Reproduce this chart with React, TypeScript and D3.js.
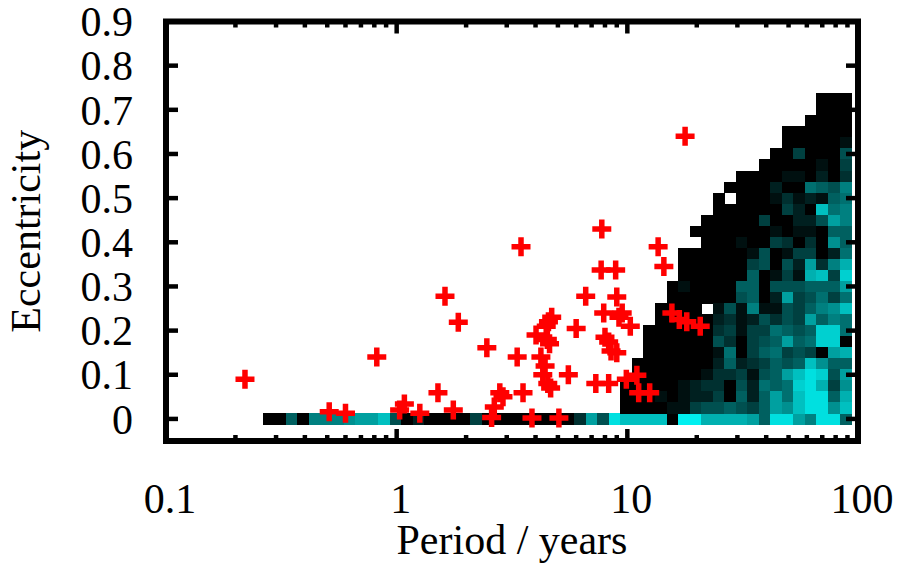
import React from 'react';
import * as d3 from 'd3';

// ---------- data ----------
const xTickValues = [0.1, 1, 10, 100];
const xTickLabels = ['0.1', '1', '10', '100'];
const yTickValues = [0, 0.1, 0.2, 0.3, 0.4, 0.5, 0.6, 0.7, 0.8, 0.9];
const yTickLabels = ['0', '0.1', '0.2', '0.3', '0.4', '0.5', '0.6', '0.7', '0.8', '0.9'];

// histogram bins: log10(period) bins, eccentricity bins
const binLogStart = -0.58;
const binLogWidth = 0.05;
const eccBinWidth = 0.025;

// bottom row (e = 0), bins 0..50, hex intensity 0-f
const bottomRow = '00608889aac' + '5020000400' + '0000003a5e' + 'cccc0ffbbbba6eea8ee6';

// upper block, bins 31..50, rows from e = 0.725 (top) down to e = 0.025
const blockStartBin = 31;
const blockRows = [
  '.................000',
  '.................000',
  '................0000',
  '..............000000',
  '..............000001',
  '.............0040005',
  '............00000104',
  '..........0000110203',
  '.........00002007658',
  '........0.0001312167',
  '........000000420c78',
  '.......00000400225a8',
  '......00000001011066',
  '.......0001004303096',
  '.....000000150144027',
  '.....00000045052a38b',
  '.....00000060141bc4d',
  '....010000660555666a',
  '....0000005602a45747',
  '...0000.15181154689c',
  '...0000023125354a687',
  '..000000341447656dd7',
  '..000000530456a67dd0',
  '..0000001704674540ab',
  '.000000026234656c966',
  '.0000001334156aced5a',
  '000001233052767deb49',
  '0001012240626a7cee6b',
  '0000114556546a9cee9c',
];

// observed planets: period (years) and eccentricity
const crossPeriod = [
  0.22, 0.51, 0.60, 0.82, 1.03, 1.08, 1.26, 1.51, 1.62, 1.76, 1.85, 2.46, 2.58, 2.65, 2.80, 2.89,
  3.33, 3.46, 3.53, 3.86, 4.02, 4.22, 4.30, 4.45, 4.55, 4.70, 4.40, 4.50, 4.60, 4.52, 4.65, 5.05,
  5.55, 6.00, 6.60, 7.30, 7.75, 7.70, 7.90, 8.00, 8.30, 8.50, 8.90, 8.30, 9.00, 9.50, 9.20, 9.00,
  9.90, 10.3, 11.2, 11.0, 12.5, 13.6, 14.4, 15.6, 16.8, 17.8, 18.1, 20.7,
];
const crossEcc = [
  0.09, 0.016, 0.013, 0.14, 0.02, 0.034, 0.013, 0.059, 0.278, 0.02, 0.219, 0.161, 0.003, 0.027, 0.059, 0.05,
  0.14, 0.39, 0.059, 0.002, 0.19, 0.14, 0.10, 0.21, 0.22, 0.23, 0.12, 0.18, 0.17, 0.08, 0.07, 0.002,
  0.10, 0.205, 0.278, 0.08, 0.43, 0.337, 0.24, 0.185, 0.174, 0.154, 0.337, 0.08, 0.276, 0.24, 0.23, 0.15,
  0.09, 0.21, 0.059, 0.099, 0.059, 0.39, 0.345, 0.24, 0.225, 0.64, 0.22, 0.21,
];

// ---------- layout ----------
const W = 900;
const H = 566;
const left = 166;
const right = 858;
const top = 21.5;
const bottom = 441;
const FONT = '"Liberation Serif", "Times New Roman", serif';

export default function App() {
  const x = d3.scaleLog().domain([0.1, 100]).range([left, right]);
  const y = d3.scaleLinear().domain([-0.05, 0.9]).range([bottom, top]);

  const cellColor = (d: string) => {
    const v = parseInt(d, 16) * 16;
    return d3.rgb(0, v, v).toString();
  };

  const cells: { j: number; k: number; c: string }[] = [];
  bottomRow.split('').forEach((ch, j) => {
    if (ch !== '.') cells.push({ j, k: 0, c: ch });
  });
  blockRows.forEach((row, ri) => {
    const k = blockRows.length - ri;
    row.split('').forEach((ch, ci) => {
      if (ch !== '.') cells.push({ j: blockStartBin + ci, k, c: ch });
    });
  });

  const minorX: number[] = [];
  [0.1, 1, 10].forEach((d) => {
    for (let m = 2; m <= 9; m++) minorX.push(d * m);
  });

  const cross = crossPeriod.map((p, i) => ({ cx: x(p), cy: y(crossEcc[i]) }));
  const arm = 9.5;

  return (
    <svg
      width={W}
      height={H}
      style={{ position: 'absolute', left: 0, top: 0, background: '#fff' }}
      xmlns="http://www.w3.org/2000/svg"
    >
      <rect x={0} y={0} width={W} height={H} fill="#fff" />
      <g shapeRendering="crispEdges">
        {cells.map((d, i) => {
          const x0 = x(Math.pow(10, binLogStart + d.j * binLogWidth));
          const x1 = x(Math.pow(10, binLogStart + (d.j + 1) * binLogWidth));
          const e = d.k * eccBinWidth;
          const y0 = y(e + eccBinWidth / 2);
          const y1 = y(e - eccBinWidth / 2);
          return (
            <rect
              key={i}
              x={x0}
              y={y0}
              width={x1 - x0 + 0.6}
              height={y1 - y0 + 0.6}
              fill={cellColor(d.c)}
            />
          );
        })}
      </g>
      <g stroke="#ff0000" strokeWidth={5.5} fill="none">
        {cross.map((c, i) => (
          <path
            key={i}
            d={`M${c.cx - arm},${c.cy}H${c.cx + arm}M${c.cx},${c.cy - arm}V${c.cy + arm}`}
          />
        ))}
      </g>
      {/* ticks */}
      <g stroke="#000" strokeWidth={4.5}>
        {yTickValues.map((v) => (
          <g key={'yt' + v}>
            <line x1={left} x2={left + 12} y1={y(v)} y2={y(v)} />
            <line x1={right} x2={right - 12} y1={y(v)} y2={y(v)} />
          </g>
        ))}
        {xTickValues.map((v) => (
          <g key={'xt' + v}>
            <line x1={x(v)} x2={x(v)} y1={bottom} y2={bottom - 12} />
            <line x1={x(v)} x2={x(v)} y1={top} y2={top + 12} />
          </g>
        ))}
        {minorX.map((v) => (
          <g key={'xm' + v}>
            <line x1={x(v)} x2={x(v)} y1={bottom} y2={bottom - 6} />
            <line x1={x(v)} x2={x(v)} y1={top} y2={top + 6} />
          </g>
        ))}
      </g>
      <rect
        x={left}
        y={top}
        width={right - left}
        height={bottom - top}
        fill="none"
        stroke="#000"
        strokeWidth={6}
      />
      {/* tick labels */}
      <g fontFamily={FONT} fontSize={42} fill="#000">
        {yTickValues.map((v, i) => (
          <text key={'yl' + v} x={133} y={y(v)} dy="0.35em" textAnchor="end">
            {yTickLabels[i]}
          </text>
        ))}
        {xTickValues.map((v, i) => (
          <text key={'xl' + v} x={x(v) + 4} y={513} textAnchor="middle">
            {xTickLabels[i]}
          </text>
        ))}
        <text x={(left + right) / 2} y={554} textAnchor="middle">
          Period / years
        </text>
        <text transform={`translate(40,${(top + bottom) / 2}) rotate(-90)`} textAnchor="middle">
          Eccentricity
        </text>
      </g>
    </svg>
  );
}
